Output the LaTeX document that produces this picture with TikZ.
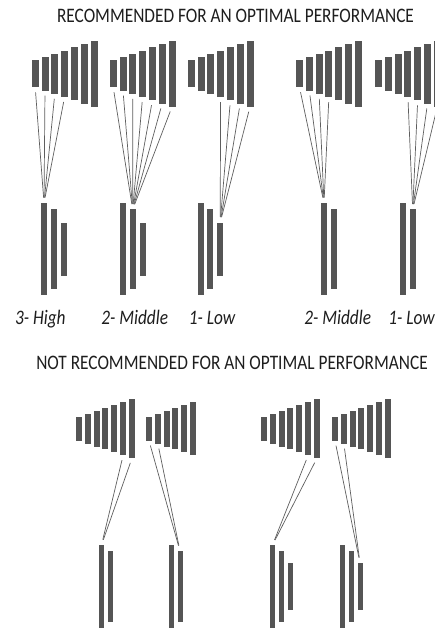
\documentclass[tikz,border=0pt]{standalone}
\usepackage{fontspec}
\setmainfont{Carlito}[FakeStretch=0.84]
\definecolor{barcol}{HTML}{555555}
\definecolor{beamcol}{HTML}{5E5E5E}
\definecolor{txtcol}{HTML}{1E1E1E}
\begin{document}
\begin{tikzpicture}[x=1pt,y=-1pt,
  bar/.style={fill=barcol, draw=none, inner sep=0pt, outer sep=0pt},
  tx/.style={bar, minimum width=7pt},
  rx/.style={bar, minimum width=6pt},
  txs/.style={bar, minimum width=6pt},
  rxs/.style={bar, minimum width=5pt},
  beam/.style={draw=beamcol, line width=0.7pt, shorten <=5pt, shorten >=5.5pt},
  title/.style={text=txtcol, font=\fontsize{20.6}{24}\selectfont, inner sep=0pt, anchor=base},
  level/.style={text=txtcol, font=\fontsize{20.6}{24}\selectfont\itshape, inner sep=0pt, anchor=base}]

\path[use as bounding box, clip] (0,0) rectangle (435,628);
\fill[white] (0,0) rectangle (435,628);

% ---------- recommended set-ups ----------
\node[title] (title1) at (235.5,22.7) {RECOMMENDED FOR AN OPTIMAL PERFORMANCE};

% emitting arrays (seven bars each)
\foreach \g/\xo in {a/31.7,b/109.7,c/187.7,d/296,e/375}
  \foreach \i in {1,...,7}
    \node[tx, minimum height={(27+(\i-1)*6.5)*1pt}] (t\g\i) at ({\xo+3.5+(\i-1)*9.8},73.8) {};

% receiving stacks
\foreach \g/\xa in {a/44,b/123,c/200.7,d/324,e/403} {
  \node[rx, minimum height=92pt] (r\g A) at (\xa,249) {};
  \node[rx, minimum height=79pt] (r\g B) at ({\xa+9.7},249) {};
}
\foreach \g/\xa in {a/44,b/123,c/200.7}
  \node[rx, minimum height=53pt] (r\g C) at ({\xa+19.5},249) {};

% beams
\foreach \i in {1,...,4} \draw[beam] (ta\i.south) -- (raA.north);
\foreach \i in {1,...,7} \draw[beam] (tb\i.south) -- (rbB.north);
\foreach \i in {4,...,7} \draw[beam] (tc\i.south) -- (rcC.north);
\foreach \i in {1,...,4} \draw[beam] (td\i.south) -- (rdA.north);
\foreach \i in {4,...,7} \draw[beam] (te\i.south) -- (reB.north);

% levels
\node[level] (lv1) at (40.3,324) {3- High};
\node[level] (lv2) at (134.7,324) {2- Middle};
\node[level] (lv3) at (212,324) {1- Low};
\node[level] (lv4) at (337.7,324) {2- Middle};
\node[level] (lv5) at (411.5,324) {1- Low};

% ---------- set-ups to avoid ----------
\node[title] (title2) at (232,369.5) {NOT RECOMMENDED FOR AN OPTIMAL PERFORMANCE};

\foreach \g/\xo/\n in {f/76/7,g/146/6,h/261/7,k/332/7}
  \foreach \i in {1,...,\n}
    \node[txs, minimum height={(24+(\i-1)*5.83)*1pt}] (t\g\i) at ({\xo+3+(\i-1)*8.83},428.7) {};

\foreach \g/\xa in {f/101.5,g/171.5,h/272.5,k/342.5} {
  \node[rxs, minimum height=83pt] (r\g A) at (\xa,586.5) {};
  \node[rxs, minimum height=71pt] (r\g B) at ({\xa+8.5},586.5) {};
}
\foreach \g/\xa in {h/272.5,k/342.5}
  \node[rxs, minimum height=47pt] (r\g C) at ({\xa+17.5},586.5) {};

\foreach \i in {6,7} \draw[beam] (tf\i.south) -- (rfA.north);
\foreach \i in {1,2} \draw[beam] (tg\i.south) -- (rgB.north);
\foreach \i in {6,7} \draw[beam] (th\i.south) -- (rhA.north);
\foreach \i in {1,2} \draw[beam] (tk\i.south) -- (rkC.north);
\end{tikzpicture}
\end{document}
